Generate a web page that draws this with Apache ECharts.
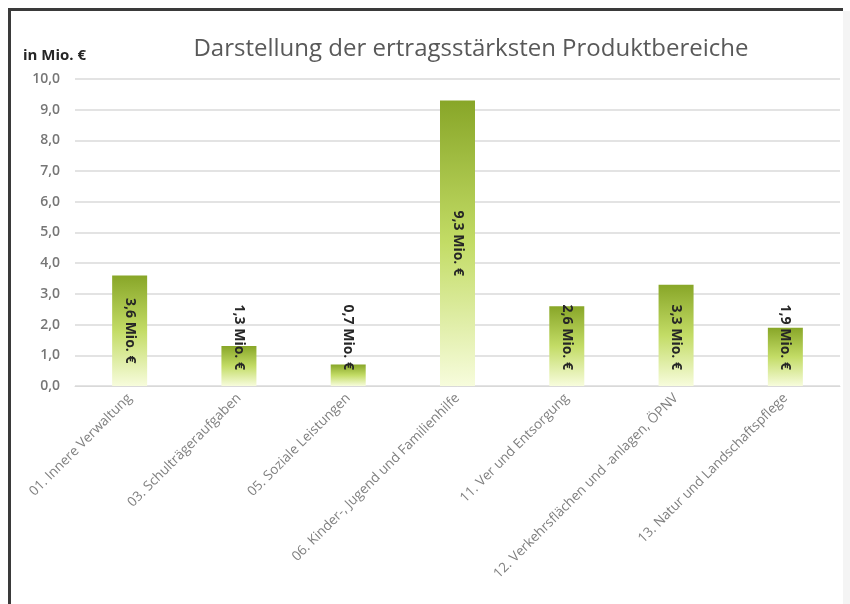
<!DOCTYPE html>
<html>
<head>
<meta charset="utf-8">
<script src="https://cdn.jsdelivr.net/npm/echarts@6/dist/echarts.min.js"></script>
<style>
html,body{margin:0;padding:0;background:#fff;}
#frame{position:absolute;left:8px;top:8px;width:835px;height:596px;border-top:3px solid #3a3a3a;border-left:3px solid #3a3a3a;box-sizing:border-box;}
#rightpad{position:absolute;left:843px;top:11px;width:7px;height:593px;background:#f4f4f4;}
#chart{position:absolute;left:0;top:0;width:850px;height:604px;}
</style>
</head>
<body>
<div id="frame"></div>
<div id="rightpad"></div>
<div id="chart"></div>
<script>
const titleText = 'Darstellung der ertragsstärksten Produktbereiche';
const unitText = 'in Mio. €';
const categories = [
  '01. Innere Verwaltung',
  '03. Schulträgeraufgaben',
  '05. Soziale Leistungen',
  '06. Kinder-, Jugend und Familienhilfe',
  '11. Ver und Entsorgung',
  '12. Verkehrsflächen und -anlagen, ÖPNV',
  '13. Natur und Landschaftspflege'
];
const values = [3.6, 1.3, 0.7, 9.3, 2.6, 3.3, 1.9];
const yTicks = { min: 0, max: 10, interval: 1 };

const fmt = v => v.toFixed(1).replace('.', ',');
const chart = echarts.init(document.getElementById('chart'), null, { renderer: 'canvas' });

function buildData(pxPerUnit) {
  const labelLen = 72;
  return values.map(v => {
    const h = v * pxPerUnit;
    const centered = (h / 2 - labelLen / 2) >= 16;
    return {
      value: v,
      label: centered
        ? { position: 'inside', align: 'center', verticalAlign: 'middle' }
        : { position: 'insideBottom', distance: 16, align: 'right', verticalAlign: 'middle' }
    };
  });
}

const option = {
  backgroundColor: 'transparent',
  animation: false,
  textStyle: { fontFamily: 'Open Sans' },
  title: {
    text: titleText,
    left: 466, textAlign: 'center', top: 32,
    textStyle: { fontSize: 24, fontWeight: 'normal', color: '#595959', fontFamily: 'Open Sans' }
  },
  graphic: [{
    type: 'text', left: 23, top: 48,
    style: { text: unitText, fontSize: 15, fontWeight: 'bold', fill: '#262626', fontFamily: 'Open Sans' }
  }],
  grid: { left: 75, right: 10, top: 79, bottom: 218 },
  xAxis: {
    type: 'category',
    data: categories,
    axisLine: { lineStyle: { color: '#d9d9d9', width: 1 } },
    axisTick: { show: false },
    axisLabel: { rotate: 45, interval: 0, fontSize: 13.5, color: '#808080', margin: 10, fontFamily: 'Open Sans' }
  },
  yAxis: {
    type: 'value',
    min: yTicks.min, max: yTicks.max, interval: yTicks.interval,
    axisLine: { show: false },
    axisTick: { show: false },
    splitLine: { lineStyle: { color: '#e3e3e3', width: 2 } },
    axisLabel: { formatter: fmt, fontSize: 14, color: '#767676', fontWeight: 600, margin: 15, fontFamily: 'Open Sans' }
  },
  series: [{
    type: 'bar',
    data: values,
    barWidth: 35,
    itemStyle: {
      color: new echarts.graphic.LinearGradient(0, 0, 0, 1, [
        { offset: 0, color: '#88a628' },
        { offset: 0.5, color: '#c3dc66' },
        { offset: 1, color: '#f7fcdc' }
      ])
    },
    label: {
      show: true,
      rotate: -90,
      formatter: p => fmt(p.value) + ' Mio. €',
      fontSize: 14, fontWeight: 'bold', color: '#262626', fontFamily: 'Open Sans'
    }
  }]
};
chart.setOption(option);
const y0 = chart.convertToPixel({ yAxisIndex: 0 }, 0);
const y1 = chart.convertToPixel({ yAxisIndex: 0 }, 1);
chart.setOption({ series: [{ data: buildData(Math.abs(y0 - y1)) }] });
</script>
</body>
</html>
